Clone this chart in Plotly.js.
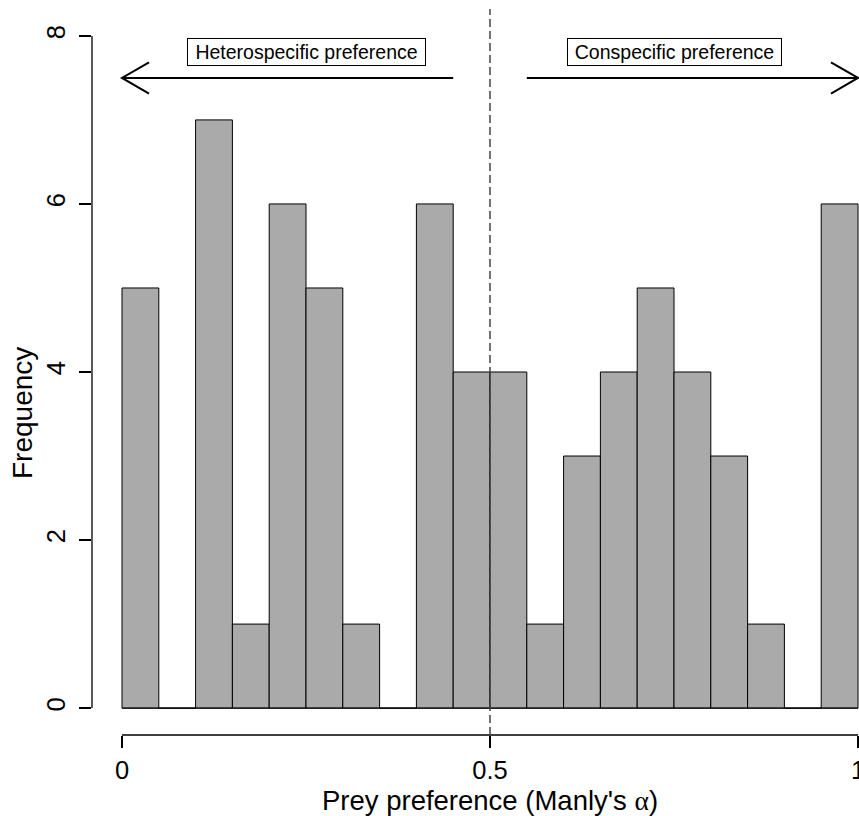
<!DOCTYPE html>
<html>
<head>
<meta charset="utf-8">
<script src="https://cdn.plot.ly/plotly-3.0.1.min.js"></script>
<style>
  html, body { margin: 0; padding: 0; background: #fff; }
  #chart { width: 859px; height: 816px; }
</style>
</head>
<body>
<div id="chart"></div>
<script>
// Histogram of Manly's alpha, bins of width 0.05
const binWidth = 0.05;
const binLower = [0, 0.05, 0.10, 0.15, 0.20, 0.25, 0.30, 0.35, 0.40, 0.45,
                  0.50, 0.55, 0.60, 0.65, 0.70, 0.75, 0.80, 0.85, 0.90, 0.95];
const counts   = [5, 0, 7, 1, 6, 5, 1, 0, 6, 4,
                  4, 1, 3, 4, 5, 4, 3, 1, 0, 6];

const xTickVals = [0, 0.5, 1];
const xTickText = ['0', '0.5', '1'];
const yTickVals = [0, 2, 4, 6, 8];
const yTickText = ['0', '2', '4', '6', '8'];

const neutralPoint = 0.5;
const labelHetero = 'Heterospecific preference';
const labelCon = 'Conspecific preference';
const labelX = 0.25;   // centre of left label
const labelXc = 0.75;  // centre of right label
const labelY = 7.81;
const arrowY = 7.5;
const arrowHetero = [0.45, 0];   // from, to
const arrowCon = [0.55, 1];

const FONT = '"Liberation Sans", Arial, Helvetica, sans-serif';

const centers = binLower.map(v => v + binWidth / 2);

const trace = {
  type: 'bar',
  x: centers,
  y: counts,
  width: binWidth,
  marker: { color: '#aaaaaa', line: { color: '#000', width: 1 } },
  hoverinfo: 'x+y'
};

// arrowhead (open V) geometry in data units
const headDx = 0.0367, headDy = 0.186;
function arrowShapes(from, to) {
  const dir = Math.sign(to - from);
  return [
    { type: 'line', xref: 'x', yref: 'y', x0: from, x1: to, y0: arrowY, y1: arrowY,
      line: { color: '#000', width: 2 } },
    { type: 'path', xref: 'x', yref: 'y',
      path: `M ${to - dir * headDx} ${arrowY + headDy} L ${to} ${arrowY} L ${to - dir * headDx} ${arrowY - headDy}`,
      line: { color: '#000', width: 2 } }
  ];
}

const shapes = [
  // baseline of the histogram
  { type: 'line', xref: 'x', yref: 'y', x0: binLower[0], x1: binLower[binLower.length - 1] + binWidth,
    y0: 0, y1: 0, line: { color: '#000', width: 1 } },
  // x axis line
  { type: 'line', xref: 'x', yref: 'paper', x0: xTickVals[0], x1: xTickVals[xTickVals.length - 1],
    y0: 0, y1: 0, line: { color: '#000', width: 1.3 } },
  // y axis line
  { type: 'line', xref: 'paper', yref: 'y', x0: 0, x1: 0,
    y0: yTickVals[0], y1: yTickVals[yTickVals.length - 1], line: { color: '#000', width: 1.3 } },
  // neutral preference
  { type: 'line', xref: 'x', yref: 'paper', x0: neutralPoint, x1: neutralPoint, y0: 0, y1: 1,
    line: { color: '#444', width: 1.5, dash: '8px,4px' } },
  ...arrowShapes(arrowHetero[0], arrowHetero[1]),
  ...arrowShapes(arrowCon[0], arrowCon[1])
];

const annotations = [
  { xref: 'x', yref: 'y', x: labelX, y: labelY, text: labelHetero, showarrow: false,
    font: { family: FONT, size: 19.5, color: '#000' },
    bgcolor: '#fff', bordercolor: '#000', borderwidth: 1, borderpad: 2, width: 233, height: 22 },
  { xref: 'x', yref: 'y', x: labelXc, y: labelY, text: labelCon, showarrow: false,
    font: { family: FONT, size: 19.5, color: '#000' },
    bgcolor: '#fff', bordercolor: '#000', borderwidth: 1, borderpad: 2, width: 209, height: 22 },
  { xref: 'x', yref: 'paper', x: 0.5, y: -0.09, yanchor: 'middle', showarrow: false,
    text: 'Prey preference (Manly\'s <span style="font-family:\'Liberation Serif\', serif">α</span>)',
    font: { family: FONT, size: 27.5, color: '#000' } },
  { xref: 'paper', yref: 'paper', x: -0.0913, y: 0.4435, xanchor: 'center', yanchor: 'middle',
    textangle: -90, showarrow: false, text: 'Frequency',
    font: { family: FONT, size: 28, color: '#000' } }
];

const layout = {
  width: 859, height: 816,
  margin: { l: 92, r: 0, t: 9, b: 81, pad: 0 },
  paper_bgcolor: '#fff', plot_bgcolor: '#fff',
  showlegend: false,
  font: { family: FONT, color: '#000' },
  xaxis: {
    range: [-0.04076, 1.00136], autorange: false,
    tickvals: xTickVals, ticktext: xTickText,
    ticks: 'outside', ticklen: 12, tickwidth: 1.3, tickcolor: '#000',
    showgrid: false, zeroline: false, showline: false,
    tickfont: { family: FONT, size: 25.5, color: '#000' },
    ticklabelstandoff: 0,
    ticklabeloverflow: 'allow'
  },
  yaxis: {
    range: [-0.32, 8.32], autorange: false,
    tickvals: yTickVals, ticktext: yTickText,
    ticks: 'outside', ticklen: 12, tickwidth: 1.3, tickcolor: '#000',
    tickangle: -90,
    showgrid: false, zeroline: false, showline: false,
    tickfont: { family: FONT, size: 25.5, color: '#000' },
    ticklabelstandoff: 4
  },
  shapes: shapes,
  annotations: annotations
};

Plotly.newPlot('chart', [trace], layout, { displayModeBar: false, staticPlot: true });
</script>
</body>
</html>
